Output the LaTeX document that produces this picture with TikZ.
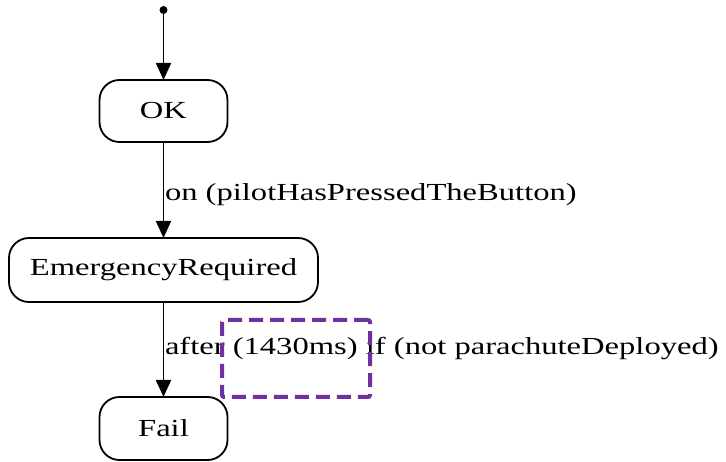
\documentclass[tikz,border=0pt]{standalone}
\usepackage{fontspec}
\setmainfont{Liberation Serif}[FakeStretch=1.33]
\usetikzlibrary{arrows.meta}
\definecolor{hilitecol}{HTML}{7030A0}

\begin{document}
\begin{tikzpicture}[x=1pt, y=-1pt, outer sep=0pt, font=\fontsize{24.5}{28}\selectfont]

\tikzstyle{state}=[draw, rectangle, rounded corners=20pt, line width=1.8pt, minimum height=62pt, inner sep=0pt]
\tikzstyle{trans}=[line width=1.8pt, -{Triangle[length=17pt,width=15pt]}]
\tikzstyle{guard}=[anchor=base west, inner sep=0pt]
\tikzstyle{hilite}=[draw=hilitecol, rectangle, line width=4pt, dash pattern=on 14pt off 7pt, rounded corners=2pt, minimum width=148pt, minimum height=77pt]

\useasboundingbox (0,0) rectangle (726,462);

\node[fill, circle, inner sep=0pt, minimum size=8pt] (init) at (163.5,10) {};
\node[state, minimum width=128pt] (ok) at (163.5,111) {OK}; \node[state, minimum width=309pt, minimum height=64pt] (emerg) at (163.5,270) {EmergencyRequired}; \node[state, minimum width=128pt, minimum height=63pt] (fail) at (163.5,428.5) {Fail};

\draw[trans] (init) -- (ok);
\draw[trans] (ok) -- (emerg);
\draw[trans] (emerg) -- (fail);

\node[guard] (lbl1) at (165,201) {on (pilotHasPressedTheButton)};
\node[guard] (lbl2) at (165,355) {after (1430ms) if (not parachuteDeployed)};

\node[hilite] (delay) at (296,358.5) {};

\end{tikzpicture}
\end{document}
